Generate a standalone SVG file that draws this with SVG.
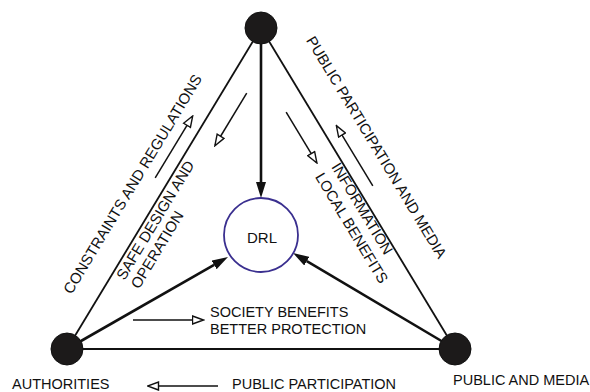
<svg xmlns="http://www.w3.org/2000/svg" width="590" height="392" viewBox="0 0 590 392">
<defs>
<style>
text{font-family:"Liberation Sans",Arial,sans-serif;font-size:14.5px;fill:#111}
.rt{font-size:15px}
.edge{stroke:#111;stroke-width:1.8;fill:none}
.main{stroke:#111;stroke-width:2.6;fill:none;marker-end:url(#solid)}
.flow{stroke:#111;stroke-width:1.5;fill:none;marker-end:url(#hollow)}
.node{fill:#1c1a1a;stroke:#111;stroke-width:1}
</style>
<marker id="solid" viewBox="0 0 16 10" refX="0" refY="5" markerWidth="16" markerHeight="10" markerUnits="userSpaceOnUse" orient="auto">
<path d="M0,0 L16,5 L0,10 Z" fill="#111"/>
</marker>
<marker id="hollow" viewBox="0 0 13 10" refX="11.5" refY="5" markerWidth="13" markerHeight="10" markerUnits="userSpaceOnUse" orient="auto">
<path d="M1,1 L12,5 L1,9 Z" fill="#fff" stroke="#111" stroke-width="1.4" stroke-linejoin="miter"/>
</marker>
</defs>
<rect width="590" height="392" fill="#fff"/>
<g id="connectors">
<line class="edge" x1="261" y1="28" x2="67" y2="349"/>
<line class="edge" x1="261" y1="28" x2="455" y2="349"/>
<line class="edge" x1="67" y1="349" x2="455" y2="349"/>
<line class="main" x1="261" y1="44" x2="261" y2="182"/>
<line class="main" x1="67" y1="349" x2="214.1" y2="264.9"/>
<line class="main" x1="455" y1="349" x2="306.8" y2="261.2"/>
<line class="flow" x1="133" y1="320" x2="203" y2="320"/>
<line class="flow" x1="218" y1="386" x2="148" y2="386"/>
<g transform="translate(67,349) rotate(-58.85)">
<line class="flow" x1="192" y1="-13" x2="264" y2="-13"/>
<line class="flow" x1="312" y1="21.4" x2="251" y2="21.4"/>
</g>
<g transform="translate(261,28) rotate(58.85)">
<line class="flow" x1="85" y1="22" x2="144" y2="22"/>
<line class="flow" x1="193" y1="-14" x2="123" y2="-14"/>
</g>
</g>
<g id="drl">
<circle cx="261" cy="235" r="37" fill="#fff" stroke="#3a2f8f" stroke-width="1.8"/>
<text x="262" y="243" text-anchor="middle" class="rt">DRL</text>
</g>
<g id="top-node">
<circle class="node" cx="261" cy="28" r="16"/>
</g>
<g id="authorities">
<circle class="node" cx="67" cy="349" r="16"/>
<text x="12" y="389">AUTHORITIES</text>
</g>
<g id="public-and-media">
<circle class="node" cx="455" cy="349" r="16"/>
<text x="453" y="385">PUBLIC AND MEDIA</text>
</g>
<g id="labels">
<text x="232" y="389">PUBLIC PARTICIPATION</text>
<text x="210" y="317">SOCIETY BENEFITS</text>
<text x="210" y="334">BETTER PROTECTION</text>
<g transform="translate(67,349) rotate(-58.85)">
<text class="rt" x="48.6" y="-24">CONSTRAINTS AND REGULATIONS</text>
<text class="rt" x="88" y="14">SAFE DESIGN AND</text>
<text class="rt" x="88" y="31">OPERATION</text>
</g>
<g transform="translate(261,28) rotate(58.85)">
<text class="rt" x="33.6" y="-32">PUBLIC PARTICIPATION AND MEDIA</text>
<text class="rt" x="155" y="12">INFORMATION</text>
<text class="rt" x="155" y="31">LOCAL BENEFITS</text>
</g>
</g>
</svg>
